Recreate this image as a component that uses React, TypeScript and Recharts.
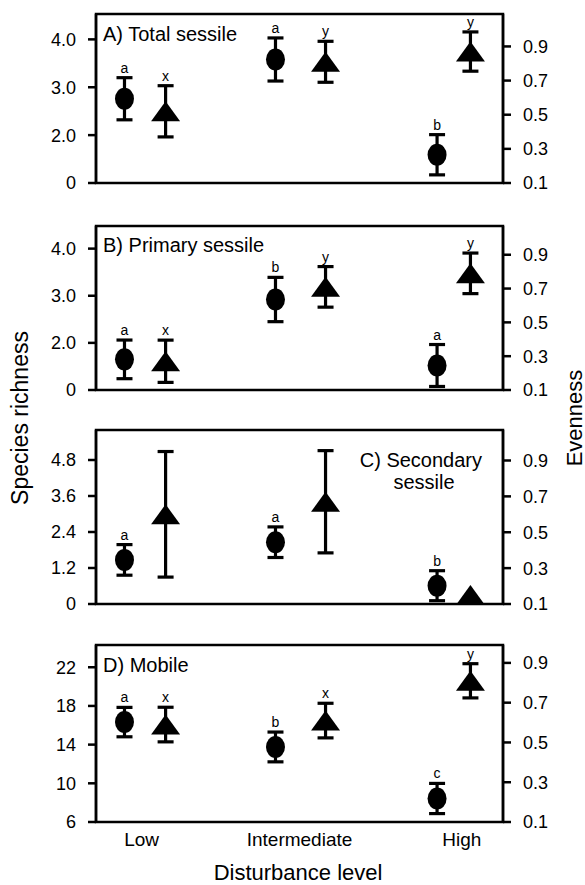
import React from 'react';
import { ScatterChart, Scatter, XAxis, YAxis, ErrorBar, ReferenceArea } from 'recharts';

// Categories and horizontal placement (numeric x-axis 0..10)
const categories = ['Low', 'Intermediate', 'High'];
const categoryX = [1.12, 5, 8.99];
const richnessX = [0.7, 4.41, 8.38];
const evennessX = [1.71, 5.64, 9.2];

// Panel A: Total sessile
const aRichMean = [2.76, 3.58, 1.59];
const aRichSE = [0.44, 0.45, 0.42];
const aRichLetters = ['a', 'a', 'b'];
const aEvenMean = [0.52, 0.81, 0.87];
const aEvenSE = [0.15, 0.12, 0.115];
const aEvenLetters = ['x', 'y', 'y'];

// Panel B: Primary sessile
const bRichMean = [1.65, 2.92, 1.52];
const bRichSE = [0.41, 0.47, 0.445];
const bRichLetters = ['a', 'b', 'a'];
const bEvenMean = [0.27, 0.71, 0.79];
const bEvenSE = [0.125, 0.12, 0.12];
const bEvenLetters = ['x', 'y', 'y'];

// Panel C: Secondary sessile
const cRichMean = [1.47, 2.06, 0.61];
const cRichSE = [0.51, 0.51, 0.5];
const cRichLetters = ['a', 'a', 'b'];
const cEvenMean = [0.6, 0.67, 0.15];
const cEvenSE = [0.35, 0.285, 0];
const cEvenLetters = ['', '', ''];

// Panel D: Mobile
const dRichMean = [16.33, 13.76, 8.43];
const dRichSE = [1.52, 1.54, 1.56];
const dRichLetters = ['a', 'b', 'c'];
const dEvenMean = [0.59, 0.61, 0.81];
const dEvenSE = [0.087, 0.087, 0.086];
const dEvenLetters = ['x', 'x', 'y'];

// Axis ticks
const aLeftTicks = [1, 2, 3, 4];
const bLeftTicks = [1, 2, 3, 4];
const cLeftTicks = [0, 1.2, 2.4, 3.6, 4.8];
const dLeftTicks = [6, 10, 14, 18, 22];
const rightTicks = [0.1, 0.3, 0.5, 0.7, 0.9];

const FONT = 'Liberation Sans, Arial, Helvetica, sans-serif';

type Pt = { x: number; y: number; se: number; letter: string };

const build = (xs: number[], m: number[], se: number[], letters: string[]): Pt[] =>
  xs.map((x, i) => ({ x, y: m[i], se: se[i], letter: letters[i] }));
const buildTop = (xs: number[], m: number[], se: number[], letters: string[]): Pt[] =>
  xs.map((x, i) => ({ x, y: m[i] + se[i], se: 0, letter: letters[i] })).filter((p) => p.letter);

const Circle = (p: any) => <ellipse cx={p.cx} cy={p.cy} rx={9.5} ry={11} fill="#000" />;
const Tri = (p: any) => (
  <path d={`M${p.cx},${p.cy - 10} L${p.cx + 14.5},${p.cy + 10} L${p.cx - 14.5},${p.cy + 10} Z`} fill="#000" />
);
const Letter = (p: any) => (
  <text x={p.cx} y={p.cy - 5} textAnchor="middle" fontSize={14} fontFamily={FONT} fill="#000">
    {p.payload.letter}
  </text>
);

type PanelProps = {
  top: number;
  frameH: number;
  leftDomain: [number, number];
  rightDomain: [number, number];
  leftTicks: number[];
  leftFmt: (v: number) => string;
  rich: Pt[];
  richTop: Pt[];
  even: Pt[];
  evenTop: Pt[];
  showX?: boolean;
};

const Panel = (props: PanelProps) => {
  const mt = 12;
  const xh = props.showX ? 40 : 0;
  const mb = props.showX ? 0 : 12;
  const h = props.frameH + mt + mb + xh;
  return (
    <div style={{ position: 'absolute', left: 0, top: props.top - mt }}>
      <ScatterChart width={585} height={h} margin={{ top: mt, right: 0, bottom: mb, left: 0 }}>
        <XAxis
          xAxisId="x"
          type="number"
          dataKey="x"
          domain={[0, 10]}
          ticks={categoryX}
          interval={0}
          tickFormatter={(v: number) => categories[categoryX.indexOf(v)] ?? ''}
          hide={!props.showX}
          height={xh}
          axisLine={false}
          tickLine={false}
          tickSize={6}
          tickMargin={5}
          tick={{ fontSize: 19, fill: '#000', fontFamily: FONT }}
        />
        <YAxis
          yAxisId="l"
          type="number"
          domain={props.leftDomain}
          ticks={props.leftTicks}
          interval={0}
          tickFormatter={props.leftFmt}
          width={96}
          allowDataOverflow
          axisLine={{ stroke: '#000', strokeWidth: 2.5 }}
          tickLine={{ stroke: '#000', strokeWidth: 2.5 }}
          tickSize={8}
          tickMargin={12}
          tick={{ fontSize: 18, fill: '#000', fontFamily: FONT }}
        />
        <YAxis
          yAxisId="r"
          orientation="right"
          type="number"
          domain={props.rightDomain}
          ticks={rightTicks}
          interval={0}
          tickFormatter={(v: number) => v.toFixed(1)}
          width={82}
          allowDataOverflow
          axisLine={{ stroke: '#000', strokeWidth: 2.5 }}
          tickLine={{ stroke: '#000', strokeWidth: 2.5 }}
          tickSize={8}
          tickMargin={12}
          tick={{ fontSize: 18, fill: '#000', fontFamily: FONT }}
        />
        <ReferenceArea
          xAxisId="x"
          yAxisId="l"
          x1={0}
          x2={10}
          y1={props.leftDomain[0]}
          y2={props.leftDomain[1]}
          fill="none"
          fillOpacity={0}
          stroke="#000"
          strokeWidth={2.5}
          ifOverflow="visible"
        />
        <Scatter xAxisId="x" yAxisId="l" data={props.rich} dataKey="y" shape={Circle} isAnimationActive={false}>
          <ErrorBar dataKey="se" direction="y" width={8} stroke="#000" strokeWidth={3.2} />
        </Scatter>
        <Scatter xAxisId="x" yAxisId="r" data={props.even} dataKey="y" shape={Tri} isAnimationActive={false}>
          <ErrorBar dataKey="se" direction="y" width={8} stroke="#000" strokeWidth={3.2} />
        </Scatter>
        <Scatter xAxisId="x" yAxisId="l" data={props.richTop} dataKey="y" shape={Letter} isAnimationActive={false} />
        <Scatter xAxisId="x" yAxisId="r" data={props.evenTop} dataKey="y" shape={Letter} isAnimationActive={false} />
      </ScatterChart>
    </div>
  );
};

const brokenFmt = (v: number) => (v === 1 ? '0' : v.toFixed(1));

export default function App() {
  return (
    <div style={{ position: 'absolute', left: 0, top: 0, width: 585, height: 885, background: '#fff', fontFamily: FONT, overflow: 'hidden' }}>
      <Panel
        top={14}
        frameH={169}
        leftDomain={[1, 4.53]}
        rightDomain={[0.1, 1.09]}
        leftTicks={aLeftTicks}
        leftFmt={brokenFmt}
        rich={build(richnessX, aRichMean, aRichSE, aRichLetters)}
        richTop={buildTop(richnessX, aRichMean, aRichSE, aRichLetters)}
        even={build(evennessX, aEvenMean, aEvenSE, aEvenLetters)}
        evenTop={buildTop(evennessX, aEvenMean, aEvenSE, aEvenLetters)}
      />
      <Panel
        top={226}
        frameH={164}
        leftDomain={[1, 4.48]}
        rightDomain={[0.1, 1.07]}
        leftTicks={bLeftTicks}
        leftFmt={brokenFmt}
        rich={build(richnessX, bRichMean, bRichSE, bRichLetters)}
        richTop={buildTop(richnessX, bRichMean, bRichSE, bRichLetters)}
        even={build(evennessX, bEvenMean, bEvenSE, bEvenLetters)}
        evenTop={buildTop(evennessX, bEvenMean, bEvenSE, bEvenLetters)}
      />
      <Panel
        top={430}
        frameH={174}
        leftDomain={[0, 5.8]}
        rightDomain={[0.1, 1.07]}
        leftTicks={cLeftTicks}
        leftFmt={(v: number) => (v === 0 ? '0' : v.toFixed(1))}
        rich={build(richnessX, cRichMean, cRichSE, cRichLetters)}
        richTop={buildTop(richnessX, cRichMean, cRichSE, cRichLetters)}
        even={build(evennessX, cEvenMean, cEvenSE, cEvenLetters)}
        evenTop={buildTop(evennessX, cEvenMean, cEvenSE, cEvenLetters)}
      />
      <Panel
        top={645}
        frameH={177}
        leftDomain={[6, 24.3]}
        rightDomain={[0.1, 0.99]}
        leftTicks={dLeftTicks}
        leftFmt={(v: number) => String(v)}
        rich={build(richnessX, dRichMean, dRichSE, dRichLetters)}
        richTop={buildTop(richnessX, dRichMean, dRichSE, dRichLetters)}
        even={build(evennessX, dEvenMean, dEvenSE, dEvenLetters)}
        evenTop={buildTop(evennessX, dEvenMean, dEvenSE, dEvenLetters)}
        showX
      />
      <svg
        width={585}
        height={885}
        style={{ position: 'absolute', left: 0, top: 0, pointerEvents: 'none' }}
        fontFamily={FONT}
      >
        <text x={103} y={41} fontSize={20} fill="#000">A) Total sessile</text>
        <text x={103} y={252} fontSize={20} fill="#000">B) Primary sessile</text>
        <text x={482} y={467} fontSize={20} fill="#000" textAnchor="end">C) Secondary</text>
        <text x={424} y={489} fontSize={20} fill="#000" textAnchor="middle">sessile</text>
        <text x={103} y={672} fontSize={20} fill="#000">D) Mobile</text>
        <text x={28} y={418} fontSize={23} fill="#000" textAnchor="middle" transform="rotate(-90 28 418)">
          Species richness
        </text>
        <text x={582} y={418} fontSize={22} fill="#000" textAnchor="middle" transform="rotate(-90 582 418)">
          Evenness
        </text>
        <text x={298} y={880} fontSize={22} fill="#000" textAnchor="middle">Disturbance level</text>
      </svg>
    </div>
  );
}
